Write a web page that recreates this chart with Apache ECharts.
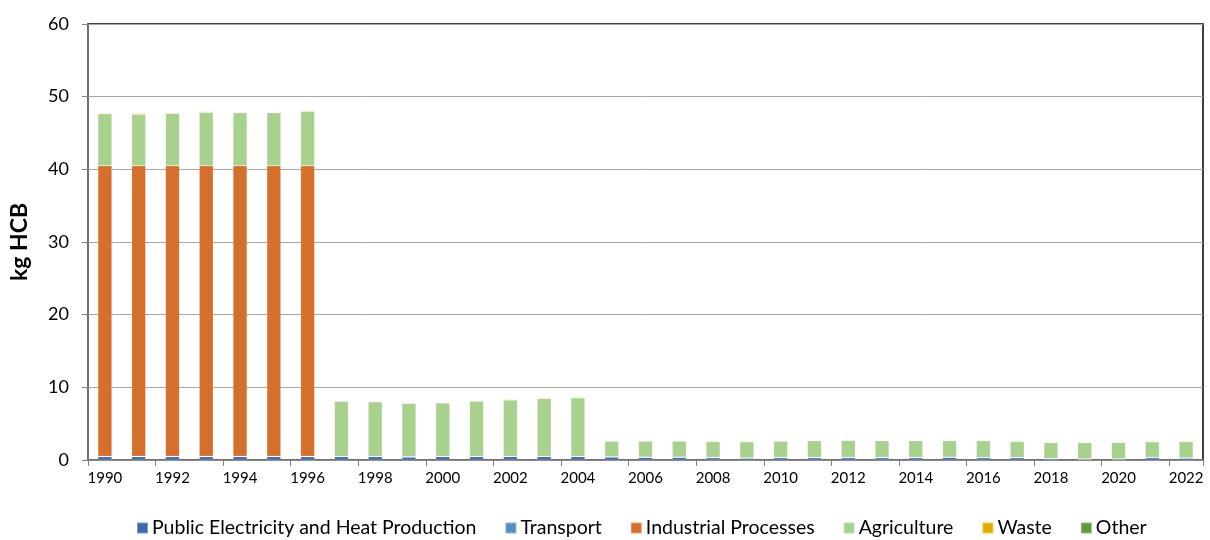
<!DOCTYPE html>
<html>
<head>
<meta charset="utf-8">
<script src="https://cdn.jsdelivr.net/npm/echarts@6/dist/echarts.min.js"></script>
<style>
  html, body { margin: 0; padding: 0; background: #fff; }
  #chart { width: 1210px; height: 540px; }
</style>
</head>
<body>
<div id="chart"></div>
<script>
// years on the category axis
var years = [];
for (var y = 1990; y <= 2022; y++) { years.push(String(y)); }

// values in kg HCB
var publicElec = [0.45, 0.45, 0.45, 0.45, 0.45, 0.45, 0.45, 0.45, 0.45, 0.4, 0.45, 0.45, 0.45, 0.45, 0.45,
                  0.4, 0.35, 0.35, 0.3, 0.25, 0.3, 0.3, 0.3, 0.3, 0.3, 0.35, 0.3, 0.3, 0.15, 0.1, 0.12, 0.3, 0.25];
var transport = [0.05, 0.05, 0.05, 0.05, 0.05, 0.05, 0.05, 0.05, 0.05, 0.05, 0.05, 0.05, 0.05, 0.05, 0.05,
                 0.05, 0.05, 0.05, 0.05, 0.05, 0.05, 0.05, 0.05, 0.05, 0.05, 0.05, 0.05, 0.05, 0.05, 0.05, 0.05, 0.05, 0.05];
var industrial = [40.0, 40.0, 40.0, 40.0, 40.0, 40.0, 40.0, 0, 0, 0, 0, 0, 0, 0, 0,
                  0, 0, 0, 0, 0, 0, 0, 0, 0, 0, 0, 0, 0, 0, 0, 0, 0, 0];
var agriculture = [7.15, 7.05, 7.2, 7.35, 7.3, 7.3, 7.5, 7.6, 7.5, 7.35, 7.35, 7.6, 7.75, 7.95, 8.05,
                   2.15, 2.2, 2.2, 2.2, 2.2, 2.25, 2.3, 2.35, 2.3, 2.3, 2.25, 2.3, 2.2, 2.2, 2.25, 2.25, 2.15, 2.25];
var waste = [0.08, 0.15, 0.08, 0.1, 0.08, 0.08, 0.08, 0.05, 0.05, 0.05, 0.05, 0.08, 0.1, 0.1, 0.1,
             0.05, 0.05, 0.05, 0.05, 0.05, 0.05, 0.05, 0.05, 0.05, 0.05, 0.05, 0.05, 0.05, 0.05, 0.05, 0.05, 0.05, 0.05];
var other = [0.01, 0.01, 0.01, 0.01, 0.01, 0.01, 0.01, 0.01, 0.01, 0.01, 0.01, 0.01, 0.01, 0.01, 0.01,
             0.01, 0.01, 0.01, 0.01, 0.01, 0.01, 0.01, 0.01, 0.01, 0.01, 0.01, 0.01, 0.01, 0.01, 0.01, 0.01, 0.01, 0.01];
var yTicks = [0, 10, 20, 30, 40, 50, 60];

var seriesNames = ['Public Electricity and Heat Production', 'Transport', 'Industrial Processes', 'Agriculture', 'Waste', 'Other'];
var seriesData = [publicElec, transport, industrial, agriculture, waste, other];
var colors = ['#4068B2', '#5490C8', '#D4702C', '#A9D18E', '#E2AC00', '#5E9A3C'];

var font = 'Lato, "Open Sans", sans-serif';
var chart = echarts.init(document.getElementById('chart'));

var series = seriesNames.map(function (name, i) {
    return {
        name: name,
        type: 'bar',
        stack: 'total',
        barWidth: 14,
        data: seriesData[i],
        itemStyle: { color: colors[i], borderColor: 'rgba(255,255,255,0.35)', borderWidth: 0.5 }
    };
});

var option = {
    animation: false,
    color: colors,
    grid: {
        left: 88, right: 7, top: 24, bottom: 80,
        outerBoundsMode: 'none',
        show: true, borderColor: '#000', borderWidth: 1.5
    },
    legend: {
        bottom: -3,
        left: 131,
        itemWidth: 11, itemHeight: 11,
        itemGap: 28,
        icon: 'rect',
        textStyle: { fontFamily: font, fontSize: 19.5, color: '#000', padding: [0, 0, 0, -1] },
        data: seriesNames
    },
    xAxis: {
        type: 'category',
        data: years,
        axisLine: { lineStyle: { color: '#808080', width: 1.5 } },
        axisTick: { show: true, length: 6, lineStyle: { color: '#808080' } },
        axisLabel: { interval: 1, fontFamily: font, fontSize: 15, color: '#000', margin: 11 }
    },
    yAxis: {
        type: 'value',
        min: 0, max: 60, interval: 10,
        name: 'kg HCB',
        nameLocation: 'middle',
        nameGap: 57,
        nameTextStyle: { fontFamily: font, fontSize: 23, fontWeight: 'bold', color: '#000' },
        axisLine: { show: true, lineStyle: { color: '#808080', width: 1.5 } },
        axisTick: { show: true, length: 6, lineStyle: { color: '#808080' } },
        splitLine: { lineStyle: { color: '#a6a6a6', width: 1 } },
        axisLabel: {
            fontFamily: font, fontSize: 18, color: '#000', margin: 19,
            formatter: function (v) { return yTicks.indexOf(v) >= 0 ? String(v) : ''; }
        }
    },
    series: series
};
chart.setOption(option);
</script>
</body>
</html>
